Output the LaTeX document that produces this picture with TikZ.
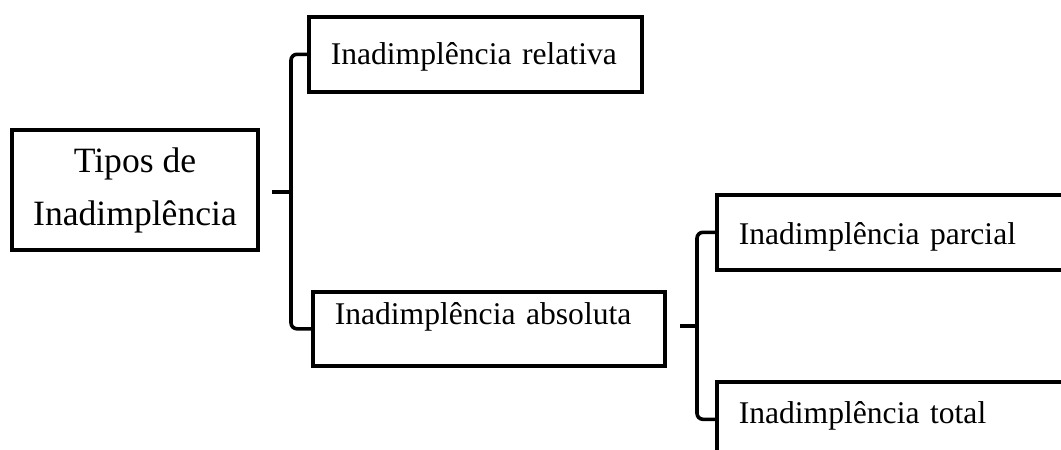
\documentclass[tikz,border=0pt]{standalone}
\usepackage{fontspec}
\setmainfont{Liberation Serif}
\tikzset{
  tipobox/.style={draw, line width=1.8pt, anchor=north west, inner ysep=0pt,
    inner xsep=11pt, align=left, font=\fontsize{15.8}{19}\selectfont},
  brace/.style={line width=1.8pt, rounded corners=3pt}
}
\begin{document}
\begin{tikzpicture}[x=0.5pt, y=-0.5pt]
      \useasboundingbox (0,0) rectangle (1061,450);
      \clip (0,0) rectangle (1061,450);
      \node[draw, line width=1.8pt, minimum width=123pt, minimum height=60pt,
        inner sep=0pt, align=center, font=\fontsize{17.8}{22.5}\selectfont]
        (tipos) at (135,190) {\raisebox{-1.5pt}{\begin{tabular}{@{}c@{}}Tipos de\\[3.6pt]Inadimplência\end{tabular}}};
      \node[tipobox, text width=144.5pt, text height=24pt, text depth=13.5pt]
        (relativa) at (307,15) {Inadimplência relativa};
      \node[tipobox, text width=154pt, text height=16.5pt, text depth=20.5pt]
        (absoluta) at (311,290) {Inadimplência absoluta};
      \node[tipobox, text width=178pt, text height=25pt, text depth=12.5pt]
        (parcial) at (715,193) {Inadimplência parcial};
      \node[tipobox, text width=178pt, text height=21pt, text depth=16.5pt]
        (total) at (715,380) {Inadimplência total};
      \coordinate (b1) at (291,192);
      \coordinate (t1) at (272,192);
      \coordinate (b2) at (697,326);
      \coordinate (t2) at (680,326);
      \begin{scope}[brace]
        \draw (relativa.west) -| (b1) |- (absoluta.west);
        \draw (t1) -- (b1);
        \draw (parcial.west) -| (b2) |- (total.west);
        \draw (t2) -- (b2);
      \end{scope}
    \end{tikzpicture}
\end{document}
